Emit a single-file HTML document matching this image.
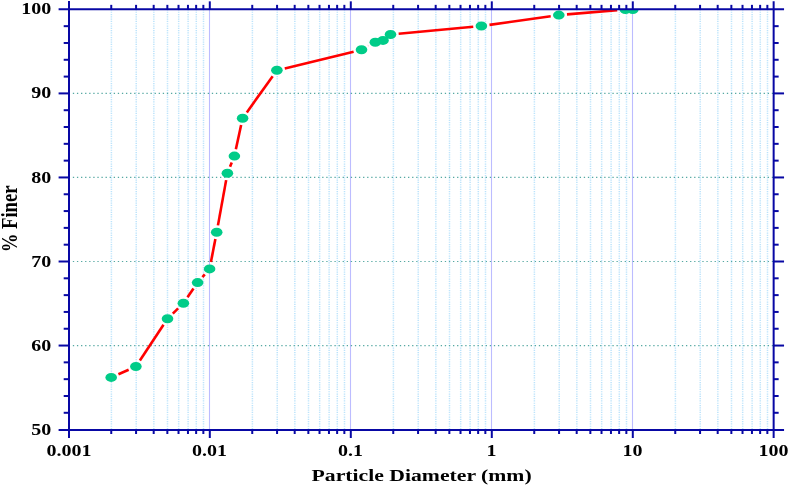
<!DOCTYPE html>
<html><head><meta charset="utf-8"><style>
html,body{margin:0;padding:0;background:#fff;overflow:hidden;}
svg{display:block;font-family:"Liberation Serif",serif;will-change:transform;}
</style></head><body>
<svg width="789" height="486" viewBox="0 0 789 486">
<rect width="789" height="486" fill="#fff"/>
<line x1="111.40" y1="9.35" x2="111.40" y2="430.0" stroke="#bce3fb" stroke-width="1.5" stroke-dasharray="1.2 1.1"/>
<line x1="136.22" y1="9.35" x2="136.22" y2="430.0" stroke="#bce3fb" stroke-width="1.5" stroke-dasharray="1.2 1.1"/>
<line x1="153.84" y1="9.35" x2="153.84" y2="430.0" stroke="#bce3fb" stroke-width="1.5" stroke-dasharray="1.2 1.1"/>
<line x1="167.50" y1="9.35" x2="167.50" y2="430.0" stroke="#bce3fb" stroke-width="1.5" stroke-dasharray="1.2 1.1"/>
<line x1="178.67" y1="9.35" x2="178.67" y2="430.0" stroke="#bce3fb" stroke-width="1.5" stroke-dasharray="1.2 1.1"/>
<line x1="188.11" y1="9.35" x2="188.11" y2="430.0" stroke="#bce3fb" stroke-width="1.5" stroke-dasharray="1.2 1.1"/>
<line x1="196.29" y1="9.35" x2="196.29" y2="430.0" stroke="#bce3fb" stroke-width="1.5" stroke-dasharray="1.2 1.1"/>
<line x1="203.50" y1="9.35" x2="203.50" y2="430.0" stroke="#bce3fb" stroke-width="1.5" stroke-dasharray="1.2 1.1"/>
<line x1="209.50" y1="9.35" x2="209.50" y2="430.0" stroke="#bcbcff" stroke-width="1.1"/>
<line x1="252.40" y1="9.35" x2="252.40" y2="430.0" stroke="#bce3fb" stroke-width="1.5" stroke-dasharray="1.2 1.1"/>
<line x1="277.22" y1="9.35" x2="277.22" y2="430.0" stroke="#bce3fb" stroke-width="1.5" stroke-dasharray="1.2 1.1"/>
<line x1="294.84" y1="9.35" x2="294.84" y2="430.0" stroke="#bce3fb" stroke-width="1.5" stroke-dasharray="1.2 1.1"/>
<line x1="308.50" y1="9.35" x2="308.50" y2="430.0" stroke="#bce3fb" stroke-width="1.5" stroke-dasharray="1.2 1.1"/>
<line x1="319.67" y1="9.35" x2="319.67" y2="430.0" stroke="#bce3fb" stroke-width="1.5" stroke-dasharray="1.2 1.1"/>
<line x1="329.11" y1="9.35" x2="329.11" y2="430.0" stroke="#bce3fb" stroke-width="1.5" stroke-dasharray="1.2 1.1"/>
<line x1="337.29" y1="9.35" x2="337.29" y2="430.0" stroke="#bce3fb" stroke-width="1.5" stroke-dasharray="1.2 1.1"/>
<line x1="344.50" y1="9.35" x2="344.50" y2="430.0" stroke="#bce3fb" stroke-width="1.5" stroke-dasharray="1.2 1.1"/>
<line x1="350.50" y1="9.35" x2="350.50" y2="430.0" stroke="#bcbcff" stroke-width="1.1"/>
<line x1="393.40" y1="9.35" x2="393.40" y2="430.0" stroke="#bce3fb" stroke-width="1.5" stroke-dasharray="1.2 1.1"/>
<line x1="418.22" y1="9.35" x2="418.22" y2="430.0" stroke="#bce3fb" stroke-width="1.5" stroke-dasharray="1.2 1.1"/>
<line x1="435.84" y1="9.35" x2="435.84" y2="430.0" stroke="#bce3fb" stroke-width="1.5" stroke-dasharray="1.2 1.1"/>
<line x1="449.50" y1="9.35" x2="449.50" y2="430.0" stroke="#bce3fb" stroke-width="1.5" stroke-dasharray="1.2 1.1"/>
<line x1="460.67" y1="9.35" x2="460.67" y2="430.0" stroke="#bce3fb" stroke-width="1.5" stroke-dasharray="1.2 1.1"/>
<line x1="470.11" y1="9.35" x2="470.11" y2="430.0" stroke="#bce3fb" stroke-width="1.5" stroke-dasharray="1.2 1.1"/>
<line x1="478.29" y1="9.35" x2="478.29" y2="430.0" stroke="#bce3fb" stroke-width="1.5" stroke-dasharray="1.2 1.1"/>
<line x1="485.50" y1="9.35" x2="485.50" y2="430.0" stroke="#bce3fb" stroke-width="1.5" stroke-dasharray="1.2 1.1"/>
<line x1="491.50" y1="9.35" x2="491.50" y2="430.0" stroke="#bcbcff" stroke-width="1.1"/>
<line x1="534.40" y1="9.35" x2="534.40" y2="430.0" stroke="#bce3fb" stroke-width="1.5" stroke-dasharray="1.2 1.1"/>
<line x1="559.22" y1="9.35" x2="559.22" y2="430.0" stroke="#bce3fb" stroke-width="1.5" stroke-dasharray="1.2 1.1"/>
<line x1="576.84" y1="9.35" x2="576.84" y2="430.0" stroke="#bce3fb" stroke-width="1.5" stroke-dasharray="1.2 1.1"/>
<line x1="590.50" y1="9.35" x2="590.50" y2="430.0" stroke="#bce3fb" stroke-width="1.5" stroke-dasharray="1.2 1.1"/>
<line x1="601.67" y1="9.35" x2="601.67" y2="430.0" stroke="#bce3fb" stroke-width="1.5" stroke-dasharray="1.2 1.1"/>
<line x1="611.11" y1="9.35" x2="611.11" y2="430.0" stroke="#bce3fb" stroke-width="1.5" stroke-dasharray="1.2 1.1"/>
<line x1="619.29" y1="9.35" x2="619.29" y2="430.0" stroke="#bce3fb" stroke-width="1.5" stroke-dasharray="1.2 1.1"/>
<line x1="626.50" y1="9.35" x2="626.50" y2="430.0" stroke="#bce3fb" stroke-width="1.5" stroke-dasharray="1.2 1.1"/>
<line x1="632.50" y1="9.35" x2="632.50" y2="430.0" stroke="#bcbcff" stroke-width="1.1"/>
<line x1="675.40" y1="9.35" x2="675.40" y2="430.0" stroke="#bce3fb" stroke-width="1.5" stroke-dasharray="1.2 1.1"/>
<line x1="700.22" y1="9.35" x2="700.22" y2="430.0" stroke="#bce3fb" stroke-width="1.5" stroke-dasharray="1.2 1.1"/>
<line x1="717.84" y1="9.35" x2="717.84" y2="430.0" stroke="#bce3fb" stroke-width="1.5" stroke-dasharray="1.2 1.1"/>
<line x1="731.50" y1="9.35" x2="731.50" y2="430.0" stroke="#bce3fb" stroke-width="1.5" stroke-dasharray="1.2 1.1"/>
<line x1="742.67" y1="9.35" x2="742.67" y2="430.0" stroke="#bce3fb" stroke-width="1.5" stroke-dasharray="1.2 1.1"/>
<line x1="752.11" y1="9.35" x2="752.11" y2="430.0" stroke="#bce3fb" stroke-width="1.5" stroke-dasharray="1.2 1.1"/>
<line x1="760.29" y1="9.35" x2="760.29" y2="430.0" stroke="#bce3fb" stroke-width="1.5" stroke-dasharray="1.2 1.1"/>
<line x1="767.50" y1="9.35" x2="767.50" y2="430.0" stroke="#bce3fb" stroke-width="1.5" stroke-dasharray="1.2 1.1"/>
<line x1="72.85" y1="345.55" x2="773.65" y2="345.55" stroke="#55a8a2" stroke-width="1.2" stroke-dasharray="1.3 2.7875"/>
<line x1="72.85" y1="261.50" x2="773.65" y2="261.50" stroke="#55a8a2" stroke-width="1.2" stroke-dasharray="1.3 2.7875"/>
<line x1="72.85" y1="177.45" x2="773.65" y2="177.45" stroke="#55a8a2" stroke-width="1.2" stroke-dasharray="1.3 2.7875"/>
<line x1="72.85" y1="93.40" x2="773.65" y2="93.40" stroke="#55a8a2" stroke-width="1.2" stroke-dasharray="1.3 2.7875"/>
<defs><clipPath id="c"><rect x="69" y="9.35" width="704.65" height="420.65"/></clipPath></defs>
<g clip-path="url(#c)">
<line x1="118.44" y1="374.21" x2="128.66" y2="369.69" stroke="#ff0000" stroke-width="2.6"/>
<line x1="139.88" y1="360.50" x2="163.52" y2="324.80" stroke="#ff0000" stroke-width="2.6"/>
<line x1="172.81" y1="313.59" x2="178.09" y2="308.41" stroke="#ff0000" stroke-width="2.6"/>
<line x1="187.50" y1="297.26" x2="193.50" y2="288.54" stroke="#ff0000" stroke-width="2.6"/>
<line x1="202.44" y1="277.07" x2="204.76" y2="274.43" stroke="#ff0000" stroke-width="2.6"/>
<line x1="210.92" y1="262.09" x2="215.38" y2="239.01" stroke="#ff0000" stroke-width="2.6"/>
<line x1="217.94" y1="225.38" x2="226.16" y2="180.12" stroke="#ff0000" stroke-width="2.6"/>
<line x1="230.05" y1="166.79" x2="231.75" y2="162.61" stroke="#ff0000" stroke-width="2.6"/>
<line x1="235.87" y1="149.32" x2="241.13" y2="125.08" stroke="#ff0000" stroke-width="2.6"/>
<line x1="246.81" y1="112.41" x2="272.69" y2="76.19" stroke="#ff0000" stroke-width="2.6"/>
<line x1="284.77" y1="68.39" x2="353.63" y2="51.71" stroke="#ff0000" stroke-width="2.6"/>
<line x1="368.36" y1="46.07" x2="368.44" y2="46.03" stroke="#ff0000" stroke-width="2.6"/>
<line x1="398.65" y1="33.74" x2="473.25" y2="26.76" stroke="#ff0000" stroke-width="2.6"/>
<line x1="489.48" y1="24.86" x2="550.72" y2="16.24" stroke="#ff0000" stroke-width="2.6"/>
<line x1="566.96" y1="14.41" x2="617.24" y2="10.19" stroke="#ff0000" stroke-width="2.6"/>
<ellipse cx="111.2" cy="377.4" rx="5.8" ry="4.5" fill="#00cc88"/>
<ellipse cx="135.9" cy="366.5" rx="5.8" ry="4.5" fill="#00cc88"/>
<ellipse cx="167.5" cy="318.8" rx="5.8" ry="4.5" fill="#00cc88"/>
<ellipse cx="183.4" cy="303.2" rx="5.8" ry="4.5" fill="#00cc88"/>
<ellipse cx="197.6" cy="282.6" rx="5.8" ry="4.5" fill="#00cc88"/>
<ellipse cx="209.6" cy="268.9" rx="5.8" ry="4.5" fill="#00cc88"/>
<ellipse cx="216.7" cy="232.2" rx="5.8" ry="4.5" fill="#00cc88"/>
<ellipse cx="227.4" cy="173.3" rx="5.8" ry="4.5" fill="#00cc88"/>
<ellipse cx="234.4" cy="156.1" rx="5.8" ry="4.5" fill="#00cc88"/>
<ellipse cx="242.6" cy="118.3" rx="5.8" ry="4.5" fill="#00cc88"/>
<ellipse cx="276.9" cy="70.3" rx="5.8" ry="4.5" fill="#00cc88"/>
<ellipse cx="361.5" cy="49.8" rx="5.8" ry="4.5" fill="#00cc88"/>
<ellipse cx="375.3" cy="42.3" rx="5.8" ry="4.5" fill="#00cc88"/>
<ellipse cx="383.0" cy="40.4" rx="5.8" ry="4.5" fill="#00cc88"/>
<ellipse cx="390.5" cy="34.5" rx="5.8" ry="4.5" fill="#00cc88"/>
<ellipse cx="481.4" cy="26.0" rx="5.8" ry="4.5" fill="#00cc88"/>
<ellipse cx="558.8" cy="15.1" rx="5.8" ry="4.5" fill="#00cc88"/>
<ellipse cx="625.4" cy="9.5" rx="5.8" ry="4.5" fill="#00cc88"/>
<ellipse cx="632.8" cy="9.5" rx="5.8" ry="4.5" fill="#00cc88"/>
</g>
<g stroke="#0808a4" stroke-width="2.0" fill="none">
<line x1="69.0" y1="1.049999999999999" x2="69.0" y2="438.0"/>
<line x1="773.65" y1="1.3499999999999996" x2="773.65" y2="438.0"/>
<line x1="58.6" y1="9.35" x2="784.05" y2="9.35"/>
<line x1="58.6" y1="430.0" x2="784.05" y2="430.0"/>
<line x1="111.25" y1="430.0" x2="111.25" y2="434.0"/>
<line x1="111.25" y1="9.35" x2="111.25" y2="4.85"/>
<line x1="136.07" y1="430.0" x2="136.07" y2="434.0"/>
<line x1="136.07" y1="9.35" x2="136.07" y2="4.85"/>
<line x1="153.69" y1="430.0" x2="153.69" y2="434.0"/>
<line x1="153.69" y1="9.35" x2="153.69" y2="4.85"/>
<line x1="167.35" y1="430.0" x2="167.35" y2="434.0"/>
<line x1="167.35" y1="9.35" x2="167.35" y2="4.85"/>
<line x1="178.52" y1="430.0" x2="178.52" y2="434.0"/>
<line x1="178.52" y1="9.35" x2="178.52" y2="4.85"/>
<line x1="187.96" y1="430.0" x2="187.96" y2="434.0"/>
<line x1="187.96" y1="9.35" x2="187.96" y2="4.85"/>
<line x1="196.14" y1="430.0" x2="196.14" y2="434.0"/>
<line x1="196.14" y1="9.35" x2="196.14" y2="4.85"/>
<line x1="203.35" y1="430.0" x2="203.35" y2="434.0"/>
<line x1="203.35" y1="9.35" x2="203.35" y2="4.85"/>
<line x1="209.80" y1="430.0" x2="209.80" y2="438.0"/>
<line x1="209.80" y1="9.35" x2="209.80" y2="1.3499999999999996"/>
<line x1="252.25" y1="430.0" x2="252.25" y2="434.0"/>
<line x1="252.25" y1="9.35" x2="252.25" y2="4.85"/>
<line x1="277.07" y1="430.0" x2="277.07" y2="434.0"/>
<line x1="277.07" y1="9.35" x2="277.07" y2="4.85"/>
<line x1="294.69" y1="430.0" x2="294.69" y2="434.0"/>
<line x1="294.69" y1="9.35" x2="294.69" y2="4.85"/>
<line x1="308.35" y1="430.0" x2="308.35" y2="434.0"/>
<line x1="308.35" y1="9.35" x2="308.35" y2="4.85"/>
<line x1="319.52" y1="430.0" x2="319.52" y2="434.0"/>
<line x1="319.52" y1="9.35" x2="319.52" y2="4.85"/>
<line x1="328.96" y1="430.0" x2="328.96" y2="434.0"/>
<line x1="328.96" y1="9.35" x2="328.96" y2="4.85"/>
<line x1="337.14" y1="430.0" x2="337.14" y2="434.0"/>
<line x1="337.14" y1="9.35" x2="337.14" y2="4.85"/>
<line x1="344.35" y1="430.0" x2="344.35" y2="434.0"/>
<line x1="344.35" y1="9.35" x2="344.35" y2="4.85"/>
<line x1="350.80" y1="430.0" x2="350.80" y2="438.0"/>
<line x1="350.80" y1="9.35" x2="350.80" y2="1.3499999999999996"/>
<line x1="393.25" y1="430.0" x2="393.25" y2="434.0"/>
<line x1="393.25" y1="9.35" x2="393.25" y2="4.85"/>
<line x1="418.07" y1="430.0" x2="418.07" y2="434.0"/>
<line x1="418.07" y1="9.35" x2="418.07" y2="4.85"/>
<line x1="435.69" y1="430.0" x2="435.69" y2="434.0"/>
<line x1="435.69" y1="9.35" x2="435.69" y2="4.85"/>
<line x1="449.35" y1="430.0" x2="449.35" y2="434.0"/>
<line x1="449.35" y1="9.35" x2="449.35" y2="4.85"/>
<line x1="460.52" y1="430.0" x2="460.52" y2="434.0"/>
<line x1="460.52" y1="9.35" x2="460.52" y2="4.85"/>
<line x1="469.96" y1="430.0" x2="469.96" y2="434.0"/>
<line x1="469.96" y1="9.35" x2="469.96" y2="4.85"/>
<line x1="478.14" y1="430.0" x2="478.14" y2="434.0"/>
<line x1="478.14" y1="9.35" x2="478.14" y2="4.85"/>
<line x1="485.35" y1="430.0" x2="485.35" y2="434.0"/>
<line x1="485.35" y1="9.35" x2="485.35" y2="4.85"/>
<line x1="491.80" y1="430.0" x2="491.80" y2="438.0"/>
<line x1="491.80" y1="9.35" x2="491.80" y2="1.3499999999999996"/>
<line x1="534.25" y1="430.0" x2="534.25" y2="434.0"/>
<line x1="534.25" y1="9.35" x2="534.25" y2="4.85"/>
<line x1="559.07" y1="430.0" x2="559.07" y2="434.0"/>
<line x1="559.07" y1="9.35" x2="559.07" y2="4.85"/>
<line x1="576.69" y1="430.0" x2="576.69" y2="434.0"/>
<line x1="576.69" y1="9.35" x2="576.69" y2="4.85"/>
<line x1="590.35" y1="430.0" x2="590.35" y2="434.0"/>
<line x1="590.35" y1="9.35" x2="590.35" y2="4.85"/>
<line x1="601.52" y1="430.0" x2="601.52" y2="434.0"/>
<line x1="601.52" y1="9.35" x2="601.52" y2="4.85"/>
<line x1="610.96" y1="430.0" x2="610.96" y2="434.0"/>
<line x1="610.96" y1="9.35" x2="610.96" y2="4.85"/>
<line x1="619.14" y1="430.0" x2="619.14" y2="434.0"/>
<line x1="619.14" y1="9.35" x2="619.14" y2="4.85"/>
<line x1="626.35" y1="430.0" x2="626.35" y2="434.0"/>
<line x1="626.35" y1="9.35" x2="626.35" y2="4.85"/>
<line x1="632.80" y1="430.0" x2="632.80" y2="438.0"/>
<line x1="632.80" y1="9.35" x2="632.80" y2="1.3499999999999996"/>
<line x1="675.25" y1="430.0" x2="675.25" y2="434.0"/>
<line x1="675.25" y1="9.35" x2="675.25" y2="4.85"/>
<line x1="700.07" y1="430.0" x2="700.07" y2="434.0"/>
<line x1="700.07" y1="9.35" x2="700.07" y2="4.85"/>
<line x1="717.69" y1="430.0" x2="717.69" y2="434.0"/>
<line x1="717.69" y1="9.35" x2="717.69" y2="4.85"/>
<line x1="731.35" y1="430.0" x2="731.35" y2="434.0"/>
<line x1="731.35" y1="9.35" x2="731.35" y2="4.85"/>
<line x1="742.52" y1="430.0" x2="742.52" y2="434.0"/>
<line x1="742.52" y1="9.35" x2="742.52" y2="4.85"/>
<line x1="751.96" y1="430.0" x2="751.96" y2="434.0"/>
<line x1="751.96" y1="9.35" x2="751.96" y2="4.85"/>
<line x1="760.14" y1="430.0" x2="760.14" y2="434.0"/>
<line x1="760.14" y1="9.35" x2="760.14" y2="4.85"/>
<line x1="767.35" y1="430.0" x2="767.35" y2="434.0"/>
<line x1="767.35" y1="9.35" x2="767.35" y2="4.85"/>
<line x1="69.0" y1="412.79" x2="63.7" y2="412.79"/>
<line x1="773.65" y1="412.79" x2="778.65" y2="412.79"/>
<line x1="69.0" y1="395.98" x2="63.7" y2="395.98"/>
<line x1="773.65" y1="395.98" x2="778.65" y2="395.98"/>
<line x1="69.0" y1="379.17" x2="63.7" y2="379.17"/>
<line x1="773.65" y1="379.17" x2="778.65" y2="379.17"/>
<line x1="69.0" y1="362.36" x2="63.7" y2="362.36"/>
<line x1="773.65" y1="362.36" x2="778.65" y2="362.36"/>
<line x1="69.0" y1="345.55" x2="58.6" y2="345.55"/>
<line x1="773.65" y1="345.55" x2="784.05" y2="345.55"/>
<line x1="69.0" y1="328.74" x2="63.7" y2="328.74"/>
<line x1="773.65" y1="328.74" x2="778.65" y2="328.74"/>
<line x1="69.0" y1="311.93" x2="63.7" y2="311.93"/>
<line x1="773.65" y1="311.93" x2="778.65" y2="311.93"/>
<line x1="69.0" y1="295.12" x2="63.7" y2="295.12"/>
<line x1="773.65" y1="295.12" x2="778.65" y2="295.12"/>
<line x1="69.0" y1="278.31" x2="63.7" y2="278.31"/>
<line x1="773.65" y1="278.31" x2="778.65" y2="278.31"/>
<line x1="69.0" y1="261.50" x2="58.6" y2="261.50"/>
<line x1="773.65" y1="261.50" x2="784.05" y2="261.50"/>
<line x1="69.0" y1="244.69" x2="63.7" y2="244.69"/>
<line x1="773.65" y1="244.69" x2="778.65" y2="244.69"/>
<line x1="69.0" y1="227.88" x2="63.7" y2="227.88"/>
<line x1="773.65" y1="227.88" x2="778.65" y2="227.88"/>
<line x1="69.0" y1="211.07" x2="63.7" y2="211.07"/>
<line x1="773.65" y1="211.07" x2="778.65" y2="211.07"/>
<line x1="69.0" y1="194.26" x2="63.7" y2="194.26"/>
<line x1="773.65" y1="194.26" x2="778.65" y2="194.26"/>
<line x1="69.0" y1="177.45" x2="58.6" y2="177.45"/>
<line x1="773.65" y1="177.45" x2="784.05" y2="177.45"/>
<line x1="69.0" y1="160.64" x2="63.7" y2="160.64"/>
<line x1="773.65" y1="160.64" x2="778.65" y2="160.64"/>
<line x1="69.0" y1="143.83" x2="63.7" y2="143.83"/>
<line x1="773.65" y1="143.83" x2="778.65" y2="143.83"/>
<line x1="69.0" y1="127.02" x2="63.7" y2="127.02"/>
<line x1="773.65" y1="127.02" x2="778.65" y2="127.02"/>
<line x1="69.0" y1="110.21" x2="63.7" y2="110.21"/>
<line x1="773.65" y1="110.21" x2="778.65" y2="110.21"/>
<line x1="69.0" y1="93.40" x2="58.6" y2="93.40"/>
<line x1="773.65" y1="93.40" x2="784.05" y2="93.40"/>
<line x1="69.0" y1="76.59" x2="63.7" y2="76.59"/>
<line x1="773.65" y1="76.59" x2="778.65" y2="76.59"/>
<line x1="69.0" y1="59.78" x2="63.7" y2="59.78"/>
<line x1="773.65" y1="59.78" x2="778.65" y2="59.78"/>
<line x1="69.0" y1="42.97" x2="63.7" y2="42.97"/>
<line x1="773.65" y1="42.97" x2="778.65" y2="42.97"/>
<line x1="69.0" y1="26.16" x2="63.7" y2="26.16"/>
<line x1="773.65" y1="26.16" x2="778.65" y2="26.16"/>
</g>
<g font-family="Liberation Serif" font-weight="bold" font-size="16.4" fill="#000">
<text transform="translate(51.3 434.65) scale(1.22 1)" text-anchor="end">50</text>
<text transform="translate(51.3 350.60) scale(1.22 1)" text-anchor="end">60</text>
<text transform="translate(51.3 266.55) scale(1.22 1)" text-anchor="end">70</text>
<text transform="translate(51.3 182.50) scale(1.22 1)" text-anchor="end">80</text>
<text transform="translate(51.3 98.45) scale(1.22 1)" text-anchor="end">90</text>
<text transform="translate(51.3 14.40) scale(1.22 1)" text-anchor="end">100</text>
<text transform="translate(69.00 456) scale(1.22 1)" text-anchor="middle">0.001</text>
<text transform="translate(209.50 456) scale(1.22 1)" text-anchor="middle">0.01</text>
<text transform="translate(350.50 456) scale(1.22 1)" text-anchor="middle">0.1</text>
<text transform="translate(491.50 456) scale(1.22 1)" text-anchor="middle">1</text>
<text transform="translate(632.50 456) scale(1.22 1)" text-anchor="middle">10</text>
<text transform="translate(773.50 456) scale(1.22 1)" text-anchor="middle">100</text>
<text transform="translate(421.6 480.7) scale(1.262 1)" text-anchor="middle" font-size="17.2">Particle Diameter (mm)</text>
<text transform="translate(16.5 218.9) scale(1.24 1) rotate(-90)" text-anchor="middle" font-size="18.7">% Finer</text>
</g>
</svg>
</body></html>
